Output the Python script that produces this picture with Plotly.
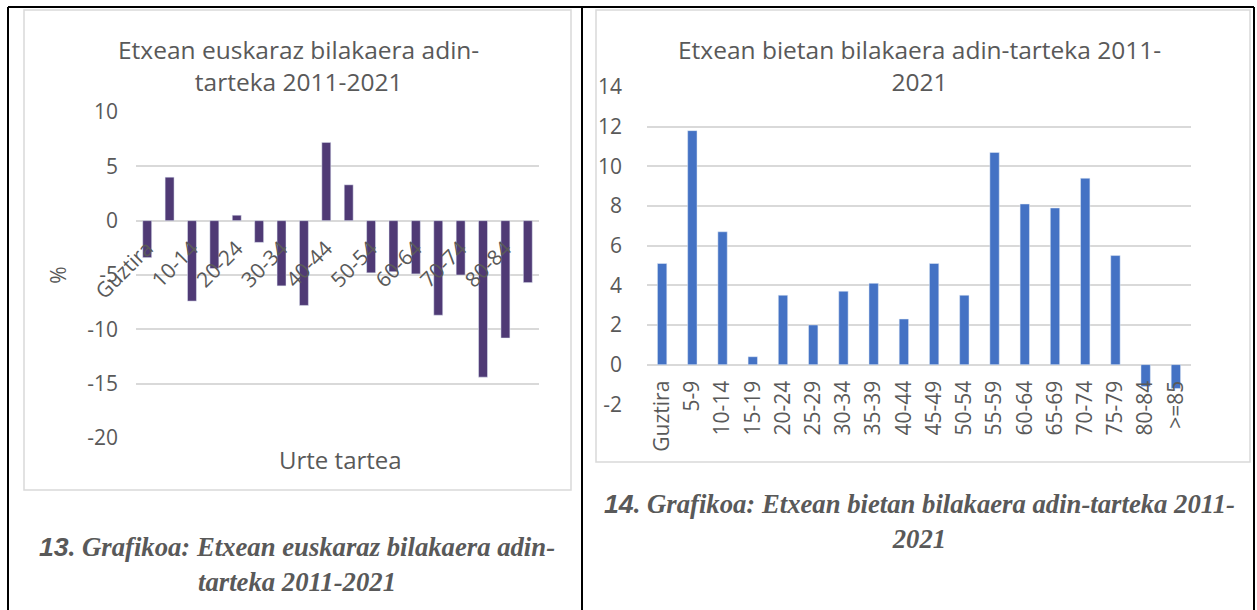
import plotly.graph_objects as go

categories = ["Guztira", "5-9", "10-14", "15-19", "20-24", "25-29", "30-34", "35-39",
              "40-44", "45-49", "50-54", "55-59", "60-64", "65-69", "70-74", "75-79",
              "80-84", ">=85"]
euskaraz = [-3.4, 4.0, -7.4, -4.4, 0.5, -2.0, -6.0, -7.8, 7.2, 3.3, -4.8, -4.7,
            -4.9, -8.7, -5.0, -14.4, -10.8, -5.7]
bietan = [5.1, 11.8, 6.7, 0.4, 3.5, 2.0, 3.7, 4.1, 2.3, 5.1, 3.5, 10.7, 8.1, 7.9,
          9.4, 5.5, -1.1, -1.2]
left_ticks = categories[::2]
left_yticks = [10, 5, 0, -5, -10, -15, -20]
left_yticktext = ["10", "5", "0", "-5", "-10", "-15", "-20"]
right_yticks = [14, 12, 10, 8, 6, 4, 2, 0, -2]
right_yticktext = ["14", "12", "10", "8", "6", "4", "2", "0", "-2"]

W, H = 1257, 610
GRAY = "#595959"
GRID = "#D9D9D9"
FONT = "Open Sans"


def px(x):
    return x / W


def py(y):
    return 1 - y / H


fig = go.Figure()
fig.add_trace(go.Bar(x=categories, y=euskaraz, marker_color="#4F3A75",
                     width=0.4, xaxis="x", yaxis="y", showlegend=False))
fig.add_trace(go.Bar(x=categories, y=bietan, marker_color="#4472C4",
                     width=0.31, xaxis="x2", yaxis="y2", showlegend=False))

tickfont = dict(family=FONT, size=21, color=GRAY)

fig.update_layout(
    width=W, height=H, margin=dict(l=0, r=0, t=0, b=0, autoexpand=False),
    paper_bgcolor="white", plot_bgcolor="white",
    font=dict(family=FONT, color=GRAY),
    xaxis=dict(domain=[px(136), px(539)], anchor="free", position=py(221),
               type="category", tickmode="array", tickvals=left_ticks,
               ticktext=left_ticks, tickangle=-45, tickfont=tickfont,
               showgrid=False, showline=False, ticks="", ticklabelstandoff=10,
               automargin=False),
    yaxis=dict(domain=[py(438), py(112)], range=[-20, 10], tickvals=left_yticks,
               ticktext=left_yticktext,
               showgrid=True, gridcolor=GRID, gridwidth=1.5, zeroline=True,
               zerolinecolor=GRID, zerolinewidth=1.5, tickfont=tickfont,
               ticks="", ticklabelstandoff=17, automargin=False,
               title=dict(text="%", font=dict(family=FONT, size=21, color=GRAY),
                          standoff=14)),
    xaxis2=dict(domain=[px(647), px(1191)], anchor="free", position=py(364.5),
                type="category", tickangle=-90, tickfont=tickfont,
                showgrid=False, showline=False, ticks="", ticklabelstandoff=11,
                automargin=False),
    yaxis2=dict(domain=[py(404.3), py(87)], range=[-2, 14], tickvals=right_yticks,
                ticktext=right_yticktext,
                anchor="x2", showgrid=True, gridcolor=GRID, gridwidth=1.5,
                zeroline=True, zerolinecolor=GRID, zerolinewidth=1.5,
                tickfont=tickfont, ticks="", ticklabelstandoff=24, automargin=False),
)

shapes = []
# outer black table lines
for (x0, y0, x1, y1) in [(8, 7, 1254, 7), (8, 7, 8, 610), (582, 7, 582, 610),
                         (1254, 7, 1254, 610)]:
    shapes.append(dict(type="line", xref="paper", yref="paper", x0=px(x0), y0=py(y0),
                       x1=px(x1), y1=py(y1), line=dict(color="black", width=2)))
# chart frames
for (x0, y0, x1, y1) in [(24, 10, 571, 490), (596, 10, 1250, 462)]:
    shapes.append(dict(type="rect", xref="paper", yref="paper", x0=px(x0), y0=py(y0),
                       x1=px(x1), y1=py(y1), line=dict(color=GRID, width=1.5),
                       layer="below"))
fig.update_layout(shapes=shapes)

ann = []
titlefont = dict(family=FONT, size=24.5, color=GRAY)
ann.append(dict(text="Etxean euskaraz bilakaera adin-<br>tarteka 2011-2021",
                x=px(298), y=py(66), xref="paper", yref="paper", showarrow=False,
                font=titlefont, align="center", xanchor="center", yanchor="middle"))
ann.append(dict(text="Etxean bietan bilakaera adin-tarteka 2011-<br>2021",
                x=px(919), y=py(66), xref="paper", yref="paper", showarrow=False,
                font=titlefont, align="center", xanchor="center", yanchor="middle"))
ann.append(dict(text="Urte tartea", x=px(340), y=py(460), xref="paper", yref="paper",
                showarrow=False, font=dict(family=FONT, size=24, color=GRAY),
                xanchor="center", yanchor="middle"))
capfont = dict(family="Liberation Serif", size=26.7, color=GRAY)
num = '<span style="font-family:Liberation Sans">{}</span>'
ann.append(dict(text="<b><i>" + num.format("13") + ". Grafikoa: Etxean euskaraz bilakaera adin-<br>tarteka 2011-2021</i></b>",
                x=px(297), y=py(564), xref="paper", yref="paper", showarrow=False,
                font=capfont, align="center", xanchor="center", yanchor="middle"))
ann.append(dict(text="<b><i>" + num.format("14") + ". Grafikoa: Etxean bietan bilakaera adin-tarteka 2011-<br>2021</i></b>",
                x=px(919), y=py(521), xref="paper", yref="paper", showarrow=False,
                font=capfont, align="center", xanchor="center", yanchor="middle"))
fig.update_layout(annotations=ann)

fig.write_html("out.html", config={"displayModeBar": False},
               post_script="document.body.style.margin='0';"
                           "document.body.style.overflow='hidden';")
